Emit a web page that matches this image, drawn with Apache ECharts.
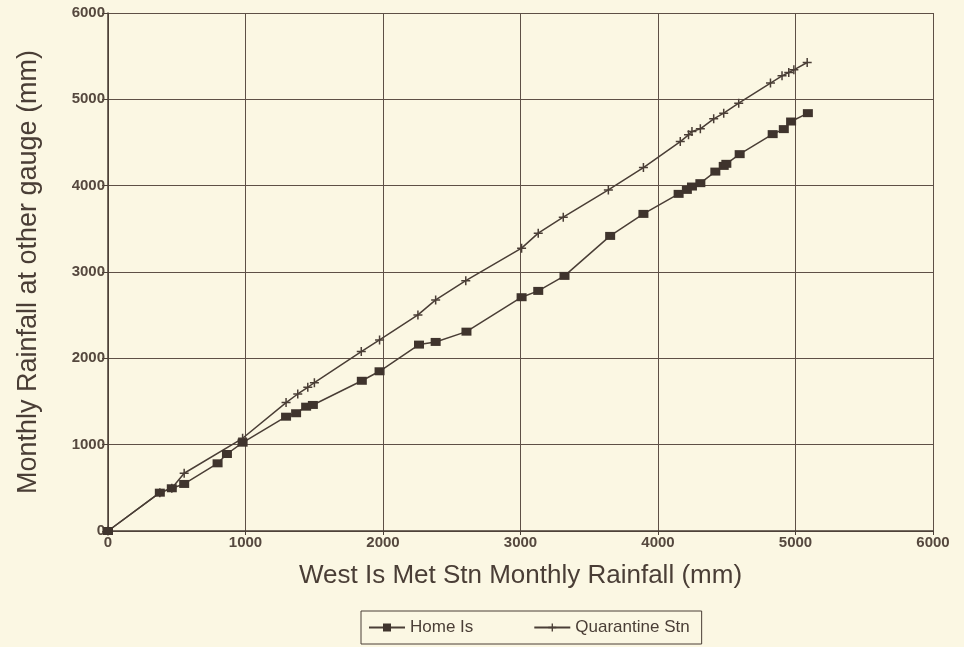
<!DOCTYPE html>
<html>
<head>
<meta charset="utf-8">
<script src="https://cdn.jsdelivr.net/npm/echarts@6/dist/echarts.min.js"></script>
<style>
  html, body { margin: 0; padding: 0; background: #fbf7e3; }
  #chart { width: 964px; height: 647px; }
</style>
</head>
<body>
<div id="chart"></div>
<script>
// Cumulative monthly rainfall: West Is Met Stn (x) against the other gauges (y), mm
const homeIsX = [0, 377, 464, 554, 797, 865, 979, 1295, 1368, 1441, 1490, 1846, 1975, 2262, 2383, 2607,
  3008, 3129, 3320, 3652, 3894, 4150, 4210, 4247, 4308, 4417, 4478, 4497, 4594, 4834, 4915, 4968, 5090];
const homeIsY = [0, 444, 495, 545, 784, 892, 1023, 1324, 1364, 1440, 1460, 1740, 1850, 2159, 2190, 2309,
  2708, 2781, 2955, 3418, 3673, 3905, 3951, 3990, 4029, 4163, 4229, 4253, 4365, 4597, 4655, 4743, 4840];

const quarantineX = [0, 377, 464, 554, 979, 1295, 1380, 1453, 1501, 1842, 1975, 2254, 2383, 2602,
  3008, 3129, 3311, 3639, 3894, 4162, 4222, 4247, 4308, 4405, 4478, 4587, 4818, 4902, 4951, 4988, 5085];
const quarantineY = [0, 444, 495, 669, 1074, 1487, 1587, 1665, 1718, 2078, 2213, 2503, 2677, 2900,
  3276, 3450, 3635, 3951, 4210, 4511, 4589, 4627, 4658, 4774, 4840, 4956, 5188, 5272, 5311, 5342, 5427];

const axisTicks = [0, 1000, 2000, 3000, 4000, 5000, 6000];

const ink = '#4a3e36';
const font = '"Liberation Sans", Arial, Helvetica, sans-serif';

const pairs = (xs, ys) => xs.map((x, i) => [x, ys[i]]);

// filled plus sign used for the Quarantine Stn markers
const plusPath = 'path://M7.5,0H10.5V7.5H18V10.5H10.5V18H7.5V10.5H0V7.5H7.5Z';

const chart = echarts.init(document.getElementById('chart'), null, { renderer: 'canvas' });

const valueAxis = (name) => ({
  type: 'value',
  min: axisTicks[0],
  max: axisTicks[axisTicks.length - 1],
  interval: axisTicks[1] - axisTicks[0],
  name: name,
  nameLocation: 'middle',
  nameTextStyle: { fontFamily: font, fontSize: 26, color: ink },
  axisLine: { show: true, onZero: false, lineStyle: { color: ink, width: 1.5 } },
  axisTick: { show: true, inside: false, length: 6, lineStyle: { color: ink, width: 1 } },
  axisLabel: {
    fontFamily: font, fontSize: 15, fontWeight: 'bold', color: '#55483e',
    formatter: (v) => String(v)
  },
  splitLine: { show: true, lineStyle: { color: '#5e5046', width: 1 } }
});

const xAxis = valueAxis('West Is Met Stn Monthly Rainfall (mm)');
xAxis.nameGap = 32;
xAxis.axisLabel.margin = 4;
xAxis.axisTick.length = 4;

const yAxis = valueAxis('Monthly Rainfall at other gauge (mm)');
yAxis.nameGap = 66;
yAxis.nameTextStyle.fontSize = 27;
yAxis.axisLabel.margin = 3;

chart.setOption({
  backgroundColor: '#fbf7e3',
  animation: false,
  grid: { left: 108, right: 31, top: 13, bottom: 116, containLabel: false },
  xAxis: xAxis,
  yAxis: yAxis,
  legend: {
    left: 361,
    top: 611,
    orient: 'horizontal',
    padding: [8, 12, 8, 7],
    itemGap: 60,
    itemWidth: 36,
    itemHeight: 10,
    borderColor: ink,
    borderWidth: 1,
    borderRadius: 0,
    textStyle: { fontFamily: font, fontSize: 17, color: ink },
    data: ['Home Is', 'Quarantine Stn']
  },
  series: [
    {
      name: 'Home Is',
      type: 'line',
      data: pairs(homeIsX, homeIsY),
      symbol: 'rect',
      symbolSize: [10, 8],
      showAllSymbol: true,
      lineStyle: { color: ink, width: 1.5 },
      itemStyle: { color: '#3f342d' },
      z: 3
    },
    {
      name: 'Quarantine Stn',
      type: 'line',
      data: pairs(quarantineX, quarantineY),
      symbol: plusPath,
      symbolSize: 9,
      showAllSymbol: true,
      lineStyle: { color: ink, width: 1.5 },
      itemStyle: { color: ink },
      z: 2
    }
  ]
});
</script>
</body>
</html>
